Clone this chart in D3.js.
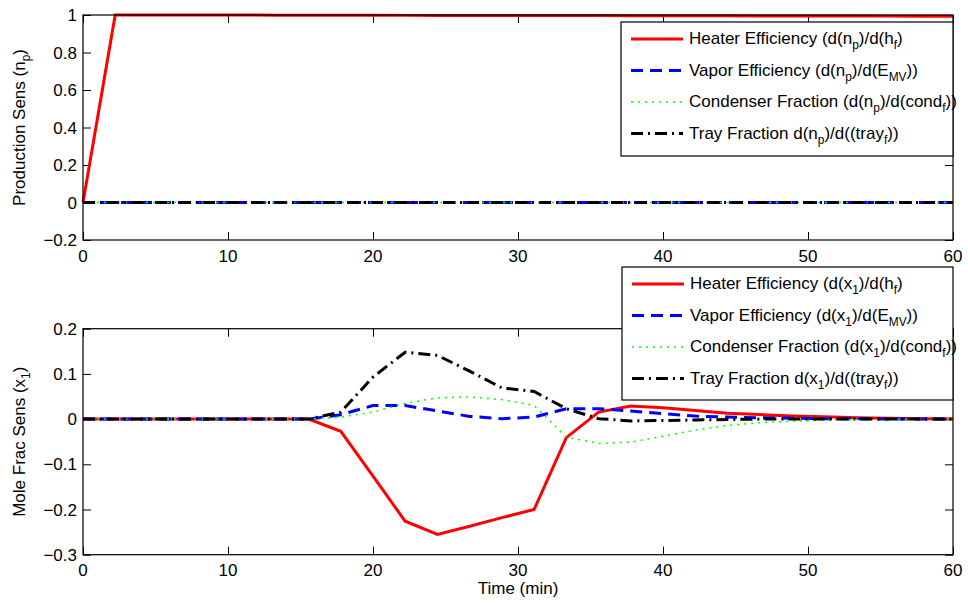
<!DOCTYPE html>
<html>
<head>
<meta charset="utf-8">
<script src="https://cdn.jsdelivr.net/npm/d3@7"></script>
<style>
  body { margin: 0; background: #fff; }
  text { font-family: "Liberation Sans", Arial, Helvetica, sans-serif; fill: #000; }
</style>
</head>
<body>
<div id="chart-area"></div>
<script>
// time samples (min)
const time = [0, 2.22, 4.44, 6.67, 8.89, 11.11, 13.33, 15.56, 17.78, 20, 22.22, 24.44, 26.67, 28.89,
  31.11, 33.33, 35.56, 37.78, 40, 42.22, 44.44, 46.67, 48.89, 51.11, 53.33, 55.56, 57.78, 60];

// production sensitivities
const npHeater = [0, 1, 1, 1, 1, 1, 0.999, 0.999, 0.999, 0.999, 0.998, 0.998, 0.998, 0.998,
  0.997, 0.997, 0.997, 0.996, 0.996, 0.996, 0.996, 0.995, 0.995, 0.995, 0.995, 0.994, 0.994, 0.994];
const npVapor = time.map(() => 0);
const npCond = time.map(() => 0);
const npTray = time.map(() => 0);

// mole fraction sensitivities
const x1Heater = [0, 0, 0, 0, 0, 0, 0, 0, -0.027, -0.126, -0.226, -0.255, -0.237, -0.218,
  -0.2, -0.041, 0.0155, 0.029, 0.025, 0.019, 0.013, 0.01, 0.007, 0.005, 0.003, 0.002, 0.001, 0];
const x1Vapor = [0, 0, 0, 0, 0, 0, 0, 0, 0.0097, 0.03, 0.03, 0.018, 0.006, 0.001,
  0.0045, 0.023, 0.023, 0.018, 0.012, 0.0067, 0.0045, 0.003, 0.002, 0.001, 0.001, 0, 0, 0];
const x1Cond = [0, 0, 0, 0, 0, 0, 0, 0, 0.0045, 0.0155, 0.035, 0.047, 0.049, 0.043,
  0.03, -0.04, -0.054, -0.051, -0.038, -0.024, -0.014, -0.008, -0.0045, -0.002, -0.001, 0, 0, 0];
const x1Tray = [0, 0, 0, 0, 0, 0, 0, 0, 0.0155, 0.093, 0.148, 0.141, 0.106, 0.069,
  0.061, 0.023, 0.001, -0.004, -0.003, -0.002, -0.001, 0, 0, 0, 0, 0, 0, 0];

const xTicks = [0, 10, 20, 30, 40, 50, 60];
const topTicks = [-0.2, 0, 0.2, 0.4, 0.6, 0.8, 1];
const botTicks = [-0.3, -0.2, -0.1, 0, 0.1, 0.2];

const topLabels = ['Heater Efficiency (d(n_{p})/d(h_{f})', 'Vapor Efficiency (d(n_{p})/d(E_{MV}))',
  'Condenser Fraction (d(n_{p})/d(cond_{f}))', 'Tray Fraction d(n_{p})/d((tray_{f}))'];
const botLabels = ['Heater Efficiency (d(x_{1})/d(h_{f})', 'Vapor Efficiency (d(x_{1})/d(E_{MV}))',
  'Condenser Fraction (d(x_{1})/d(cond_{f}))', 'Tray Fraction d(x_{1})/d((tray_{f}))'];

const styles = [
  {color: '#ff0000', width: 3, dash: null},
  {color: '#0000ff', width: 3, dash: '12,7'},
  {color: '#00ff00', width: 1.5, dash: '2,5'},
  {color: '#000000', width: 3, dash: '12,5,2,5'}
];

const FS = 17;

const svg = d3.select('#chart-area').append('svg')
  .attr('width', 968).attr('height', 603);

const left = 83, right = 953;
const x = d3.scaleLinear().domain([0, 60]).range([left, right]);

// write "a_{b}" strings as text with subscripts
function richText(sel, str, size) {
  sel.attr('font-size', size);
  const parts = str.split(/(_\{[^}]*\})/).filter(s => s.length);
  let back = 0;
  parts.forEach(p => {
    if (p.startsWith('_{')) {
      sel.append('tspan').attr('font-size', size * 0.7).attr('dy', size * 0.3).text(p.slice(2, -1));
      back = -size * 0.3;
    } else {
      sel.append('tspan').attr('font-size', size).attr('dy', back).text(p);
      back = 0;
    }
  });
}

function panel(top, bottom, yDomain, yTicks, series, labels, yLabel, legendBox) {
  const y = d3.scaleLinear().domain(yDomain).range([bottom, top]);
  const g = svg.append('g');
  const fmt = v => (v < 0 ? '\u2212' : '') + d3.format('')(Math.abs(+v.toFixed(2)));

  // ticks inside the box, mirrored on all sides
  g.append('g').attr('transform', `translate(0,${bottom})`)
    .call(d3.axisTop(x).tickValues(xTicks).tickSize(8).tickFormat(''))
    .call(a => a.select('.domain').remove());
  g.append('g').attr('transform', `translate(0,${top})`)
    .call(d3.axisBottom(x).tickValues(xTicks).tickSize(8).tickFormat(''))
    .call(a => a.select('.domain').remove());
  g.append('g').attr('transform', `translate(${left},0)`)
    .call(d3.axisRight(y).tickValues(yTicks).tickSize(8).tickFormat(''))
    .call(a => a.select('.domain').remove());
  g.append('g').attr('transform', `translate(${right},0)`)
    .call(d3.axisLeft(y).tickValues(yTicks).tickSize(8).tickFormat(''))
    .call(a => a.select('.domain').remove());
  g.selectAll('.tick line').attr('stroke', '#000').attr('stroke-width', 1);
  g.selectAll('.tick text').remove();

  g.selectAll('.xl').data(xTicks).enter().append('text')
    .attr('x', d => x(d)).attr('y', bottom + 21.5)
    .attr('text-anchor', 'middle').attr('font-size', FS).text(d => d);
  g.selectAll('.yl').data(yTicks).enter().append('text')
    .attr('x', left - 6).attr('y', d => y(d) + 6)
    .attr('text-anchor', 'end').attr('font-size', FS).text(fmt);

  const line = vals => d3.line().x((d, i) => x(time[i])).y(d => y(d))(vals);
  series.forEach((vals, k) => {
    g.append('path').attr('d', line(vals)).attr('fill', 'none')
      .attr('stroke', styles[k].color).attr('stroke-width', styles[k].width)
      .attr('stroke-dasharray', styles[k].dash);
  });

  g.append('rect').attr('x', left).attr('y', top).attr('width', right - left).attr('height', bottom - top)
    .attr('fill', 'none').attr('stroke', '#000').attr('stroke-width', 1.2);

  const lab = g.append('text').attr('text-anchor', 'middle')
    .attr('transform', `translate(25,${(top + bottom) / 2}) rotate(-90)`);
  richText(lab, yLabel, FS);

  // legend
  const lg = g.append('g');
  lg.append('rect').attr('x', legendBox.x).attr('y', legendBox.y)
    .attr('width', right - legendBox.x).attr('height', legendBox.h)
    .attr('fill', '#fff').attr('stroke', '#000').attr('stroke-width', 1.2);
  labels.forEach((t, k) => {
    const yy = legendBox.y + 17 + k * 31.5;
    lg.append('line').attr('x1', legendBox.x + 10).attr('x2', legendBox.x + 62)
      .attr('y1', yy).attr('y2', yy)
      .attr('stroke', styles[k].color).attr('stroke-width', styles[k].width)
      .attr('stroke-dasharray', styles[k].dash);
    const tx = lg.append('text').attr('x', legendBox.x + 68).attr('y', yy + 5);
    richText(tx, t, FS);
  });
}

panel(15, 240, [-0.2, 1], topTicks, [npHeater, npVapor, npCond, npTray], topLabels,
  'Production Sens (n_{p})', {x: 621, y: 22, h: 134});
panel(328.7, 554.7, [-0.3, 0.2], botTicks, [x1Heater, x1Vapor, x1Cond, x1Tray], botLabels,
  'Mole Frac Sens (x_{1})', {x: 622, y: 267, h: 133});

svg.append('text').attr('x', 518).attr('y', 594).attr('text-anchor', 'middle')
  .attr('font-size', FS).text('Time (min)');
</script>
</body>
</html>
